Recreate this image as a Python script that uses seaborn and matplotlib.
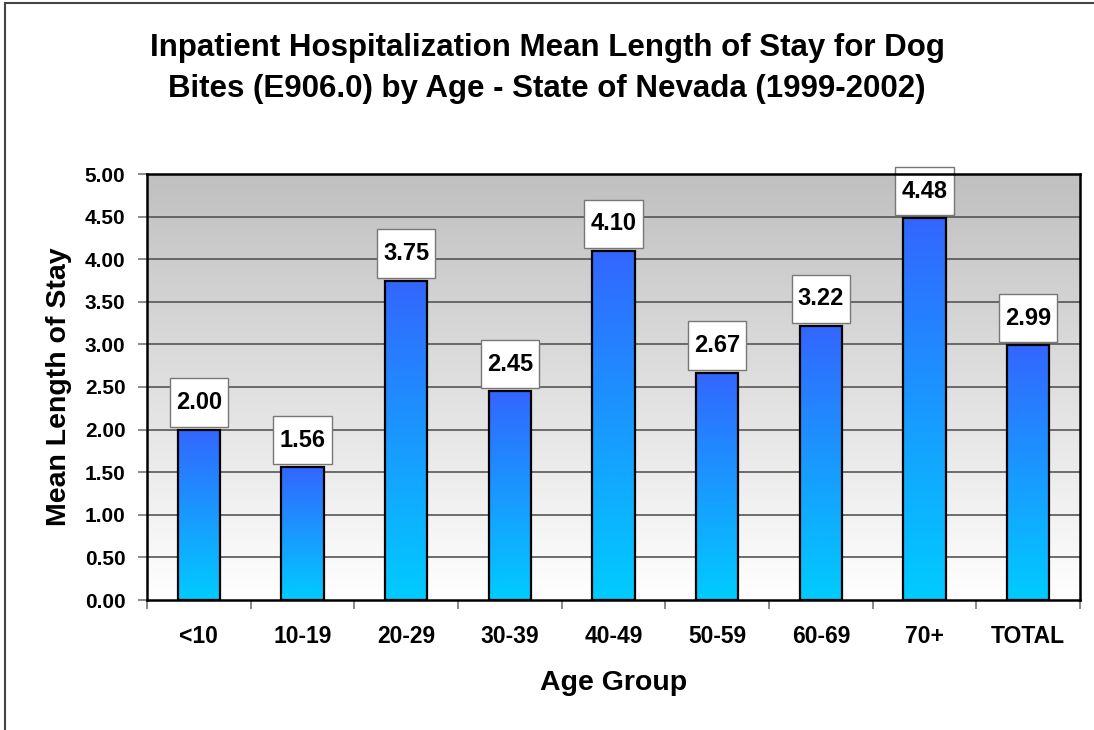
import numpy as np
import pandas as pd
import matplotlib
matplotlib.use("Agg")
import matplotlib.pyplot as plt
import seaborn as sns
from matplotlib.colors import LinearSegmentedColormap
from matplotlib.patches import Rectangle

# data
age_groups = ['<10', '10-19', '20-29', '30-39', '40-49', '50-59', '60-69', '70+', 'TOTAL']
mean_stay = [2.00, 1.56, 3.75, 2.45, 4.10, 2.67, 3.22, 4.48, 2.99]
y_ticks = [0.0, 0.5, 1.0, 1.5, 2.0, 2.5, 3.0, 3.5, 4.0, 4.5, 5.0]

df = pd.DataFrame({'age': age_groups, 'stay': mean_stay})

sns.set_theme(style='white')
plt.rcParams['font.family'] = ['Liberation Sans', 'DejaVu Sans']
plt.rcParams['font.weight'] = 'bold'
plt.rcParams['text.color'] = 'black'
plt.rcParams['axes.labelcolor'] = 'black'

fig = plt.figure(figsize=(10.94, 7.30), dpi=100)
ax = fig.add_axes([147 / 1094, 130 / 730, 933 / 1094, 426 / 730])

sns.barplot(data=df, x='age', y='stay', color='#3366FF', width=0.41,
            edgecolor='black', linewidth=1.6, ax=ax, zorder=3)

ax.set_ylim(0, 5)
ax.set_xlim(-0.5, len(age_groups) - 0.5)

# gray plot-area background gradient
bg = np.linspace(0, 1, 256).reshape(-1, 1)
bg_cmap = LinearSegmentedColormap.from_list('bg', ['#FFFFFF', '#C0C0C0'])
ax.imshow(bg, cmap=bg_cmap, aspect='auto', origin='lower',
          extent=[-0.5, len(age_groups) - 0.5, 0, 5], zorder=0)

# blue-to-cyan gradient inside each bar
bar_cmap = LinearSegmentedColormap.from_list('bar', ['#00CCFF', '#3366FF'])
for patch in ax.patches:
    x0, w, h = patch.get_x(), patch.get_width(), patch.get_height()
    im = ax.imshow(bg, cmap=bar_cmap, aspect='auto', origin='lower',
                   extent=[x0, x0 + w, 0, h], zorder=3.5)
    im.set_clip_path(patch)
    patch.set_facecolor('none')
    patch.set_zorder(4)

# gridlines
for t in y_ticks[1:-1]:
    ax.axhline(t, color='#555555', lw=1.2, zorder=1)

# value labels in white boxes
for i, v in enumerate(mean_stay):
    ax.add_patch(Rectangle((i - 0.28, v + 0.035), 0.56, 0.565, facecolor='white',
                           edgecolor='#777777', lw=1.0, zorder=5, clip_on=False))
    ax.text(i, v + 0.035 + 0.2825, f'{v:.2f}', ha='center', va='center',
            fontsize=17, fontweight='bold', color='black', zorder=6)

ax.set_yticks(y_ticks)
ax.set_yticklabels([f'{t:.2f}' for t in y_ticks], fontsize=15, fontweight='bold')
ax.set_xticks(np.arange(len(age_groups) + 1) - 0.5, minor=False)
ax.set_xticklabels([''] * (len(age_groups) + 1))
ax.set_xticks(np.arange(len(age_groups)), minor=True)
ax.set_xticklabels(age_groups, minor=True, fontsize=16.5, fontweight='bold')
ax.tick_params(axis='x', which='major', direction='out', length=6.5, width=1.2,
               color='#777777', bottom=True)
ax.tick_params(axis='x', which='minor', length=0, pad=18, labelcolor='black')
ax.tick_params(axis='y', direction='out', length=6.5, width=1.2, color='#777777',
               left=True, pad=9, labelcolor='black')

for s in ax.spines.values():
    s.set_visible(True)
    s.set_color('black')
    s.set_linewidth(1.8)
    s.set_zorder(7)

ax.set_xlabel('Age Group', fontsize=20.5, fontweight='bold', labelpad=16)
ax.set_ylabel('Mean Length of Stay', fontsize=20.5, fontweight='bold', labelpad=9)

fig.text(0.5, 1 - 48 / 730, 'Inpatient Hospitalization Mean Length of Stay for Dog',
         ha='center', va='center', fontsize=22.5, fontweight='bold')
fig.text(0.5, 1 - 89 / 730, 'Bites (E906.0) by Age - State of Nevada (1999-2002)',
         ha='center', va='center', fontsize=22.5, fontweight='bold')

# outer frame (left and top edges visible)
fig.add_artist(Rectangle((5 / 1094, -0.1), 2, (727 / 730) + 0.1, transform=fig.transFigure,
                         facecolor='none', edgecolor='#444444', lw=1.5))

fig.savefig('out.png', dpi=100, facecolor='white')
